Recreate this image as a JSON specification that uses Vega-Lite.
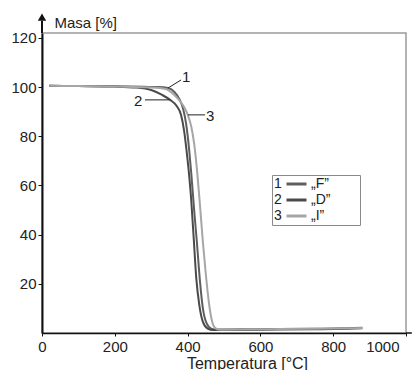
{
  "$schema": "https://vega.github.io/schema/vega-lite/v6.json",
  "width": 364,
  "height": 300,
  "autosize": "none",
  "padding": {"left": 42, "top": 33, "right": 6, "bottom": 37},
  "background": "white",
  "config": {
    "font": "Liberation Sans",
    "view": {"stroke": "#9a9a9a", "strokeWidth": 1.5},
    "axis": {"grid": false, "labelFont": "Liberation Sans", "titleFont": "Liberation Sans", "labelColor": "#222", "titleColor": "#222", "titleFontWeight": "normal"},
    "legend": {"labelFont": "Liberation Sans", "titleFont": "Liberation Sans", "labelColor": "#222", "titleColor": "#222"}
  },
  "datasets": {
    "curves": [
      {"sample": "F", "t": 20, "m": 100.5},
      {"sample": "F", "t": 100, "m": 100.4},
      {"sample": "F", "t": 200, "m": 100.3},
      {"sample": "F", "t": 280, "m": 100.1},
      {"sample": "F", "t": 320, "m": 100},
      {"sample": "F", "t": 346, "m": 99.6},
      {"sample": "F", "t": 365, "m": 97.8},
      {"sample": "F", "t": 378, "m": 95},
      {"sample": "F", "t": 388, "m": 91},
      {"sample": "F", "t": 396, "m": 85},
      {"sample": "F", "t": 404, "m": 75},
      {"sample": "F", "t": 410, "m": 65},
      {"sample": "F", "t": 418, "m": 50},
      {"sample": "F", "t": 426, "m": 36},
      {"sample": "F", "t": 434, "m": 21},
      {"sample": "F", "t": 442, "m": 10},
      {"sample": "F", "t": 452, "m": 4},
      {"sample": "F", "t": 465, "m": 1.8},
      {"sample": "F", "t": 480, "m": 1.4},
      {"sample": "F", "t": 550, "m": 1.5},
      {"sample": "F", "t": 650, "m": 1.6},
      {"sample": "F", "t": 750, "m": 1.7},
      {"sample": "F", "t": 830, "m": 1.9},
      {"sample": "F", "t": 880, "m": 2.1},
      {"sample": "D", "t": 20, "m": 100.5},
      {"sample": "D", "t": 100, "m": 100.4},
      {"sample": "D", "t": 200, "m": 100.2},
      {"sample": "D", "t": 260, "m": 99.8},
      {"sample": "D", "t": 300, "m": 98.8},
      {"sample": "D", "t": 330, "m": 96.8},
      {"sample": "D", "t": 352, "m": 94.8},
      {"sample": "D", "t": 370, "m": 92.3},
      {"sample": "D", "t": 382, "m": 88.7},
      {"sample": "D", "t": 390, "m": 82.6},
      {"sample": "D", "t": 397, "m": 74.4},
      {"sample": "D", "t": 403, "m": 66},
      {"sample": "D", "t": 410, "m": 54},
      {"sample": "D", "t": 417, "m": 38},
      {"sample": "D", "t": 424, "m": 22},
      {"sample": "D", "t": 432, "m": 11.5},
      {"sample": "D", "t": 442, "m": 4.5},
      {"sample": "D", "t": 455, "m": 1.8},
      {"sample": "D", "t": 470, "m": 1.2},
      {"sample": "D", "t": 550, "m": 1.3},
      {"sample": "D", "t": 650, "m": 1.4},
      {"sample": "D", "t": 750, "m": 1.5},
      {"sample": "D", "t": 830, "m": 1.7},
      {"sample": "D", "t": 880, "m": 1.9},
      {"sample": "I", "t": 20, "m": 100.5},
      {"sample": "I", "t": 100, "m": 100.4},
      {"sample": "I", "t": 200, "m": 100.2},
      {"sample": "I", "t": 300, "m": 99.8},
      {"sample": "I", "t": 340, "m": 99.2},
      {"sample": "I", "t": 362, "m": 97},
      {"sample": "I", "t": 378, "m": 94.5},
      {"sample": "I", "t": 390, "m": 92},
      {"sample": "I", "t": 401, "m": 88.5},
      {"sample": "I", "t": 410, "m": 84},
      {"sample": "I", "t": 418, "m": 77},
      {"sample": "I", "t": 426, "m": 66},
      {"sample": "I", "t": 434, "m": 52},
      {"sample": "I", "t": 442, "m": 37},
      {"sample": "I", "t": 450, "m": 24},
      {"sample": "I", "t": 458, "m": 13},
      {"sample": "I", "t": 466, "m": 5.5},
      {"sample": "I", "t": 476, "m": 2},
      {"sample": "I", "t": 490, "m": 1.3},
      {"sample": "I", "t": 560, "m": 1.5},
      {"sample": "I", "t": 650, "m": 1.6},
      {"sample": "I", "t": 750, "m": 1.7},
      {"sample": "I", "t": 830, "m": 1.9},
      {"sample": "I", "t": 880, "m": 2.0}
    ],
    "notes": [
      {"num": "1", "t1": 346, "m1": 99.6, "t2": 382, "m2": 102.9, "tx": 396, "my": 104},
      {"num": "2", "t1": 283, "m1": 94.8, "t2": 350, "m2": 94.8, "tx": 264, "my": 94.5},
      {"num": "3", "t1": 401, "m1": 88.7, "t2": 448, "m2": 88.7, "tx": 462, "my": 88.3}
    ]
  },
  "layer": [
    {
      "data": {"name": "curves"},
      "mark": {"type": "line", "strokeWidth": 2, "interpolate": "monotone"},
      "encoding": {
        "x": {
          "field": "t", "type": "quantitative", "title": "Temperatura [°C]",
          "scale": {"domain": [0, 1000], "nice": false, "zero": false},
          "axis": {
            "values": [0, 200, 400, 600, 800, 1000], "format": "d",
            "labelFontSize": 15, "domainColor": "#111", "domainWidth": 1.5,
            "tickColor": "#111", "tickSize": 3, "labelPadding": 3,
            "titleFontSize": 16, "titleX": 205, "titleY": 35, "titleBaseline": "alphabetic",
            "labelAlign": {"condition": {"test": "datum.value === 1000", "value": "right"}, "value": "center"},
            "labelOffset": {"condition": {"test": "datum.value === 1000", "value": -7}, "value": 0}
          }
        },
        "y": {
          "field": "m", "type": "quantitative", "title": "Masa [%]",
          "scale": {"domain": [0, 122], "nice": false, "zero": false},
          "axis": {
            "values": [20, 40, 60, 80, 100, 120],
            "labelFontSize": 15, "domainColor": "#111", "domainWidth": 2,
            "tickColor": "#111", "tickSize": 4, "labelPadding": 2,
            "titleFontSize": 15, "titleAngle": 0, "titleAlign": "left", "titleBaseline": "alphabetic",
            "titleX": 12, "titleY": -6
          }
        },
        "color": {
          "field": "sample", "type": "nominal",
          "scale": {"domain": ["F", "D", "I"], "range": ["#5e5e5e", "#4a4a4a", "#a6a6a6"]},
          "legend": {
            "orient": "none", "legendX": 230, "legendY": 142,
            "title": ["1", "2", "3"], "titleOrient": "left", "titleAnchor": "start",
            "titleBaseline": "top", "titleLineHeight": 16, "titleFontSize": 14,
            "titleFontWeight": "normal", "titlePadding": 4,
            "symbolType": "M-1.3,0H2.7", "symbolSize": 100, "symbolStrokeWidth": 3,
            "labelFontSize": 14, "labelOffset": 11, "rowPadding": 2, "padding": 2,
            "strokeColor": "#8a8a8a",
            "labelExpr": "'„' + datum.label + '”\u00a0\u00a0\u00a0\u00a0\u00a0\u00a0\u00a0\u200b'"
          }
        }
      }
    },
    {
      "data": {"name": "notes"},
      "mark": {"type": "rule", "color": "#222", "strokeWidth": 1},
      "encoding": {
        "x": {"field": "t1", "type": "quantitative", "title": "Temperatura [°C]"},
        "y": {"field": "m1", "type": "quantitative", "title": "Masa [%]"},
        "x2": {"field": "t2"},
        "y2": {"field": "m2"}
      }
    },
    {
      "data": {"name": "notes"},
      "mark": {"type": "text", "fontSize": 15, "color": "#222", "align": "center", "baseline": "middle"},
      "encoding": {
        "x": {"field": "tx", "type": "quantitative", "title": "Temperatura [°C]"},
        "y": {"field": "my", "type": "quantitative", "title": "Masa [%]"},
        "text": {"field": "num"}
      }
    },
    {
      "data": {"values": [{}]},
      "mark": {"type": "rule", "color": "#111", "strokeWidth": 2},
      "encoding": {"x": {"datum": 0}, "y": {"datum": 122}, "y2": {"datum": 127}}
    },
    {
      "data": {"values": [{}]},
      "mark": {"type": "point", "shape": "triangle-up", "filled": true, "color": "#111", "size": 70, "opacity": 1},
      "encoding": {"x": {"datum": 0}, "y": {"datum": 128.5}}
    },
    {
      "data": {"values": [{}]},
      "mark": {"type": "rule", "color": "#111", "strokeWidth": 1.5},
      "encoding": {"x": {"datum": 1000}, "x2": {"datum": 1016}, "y": {"datum": 0}}
    }
  ]
}
